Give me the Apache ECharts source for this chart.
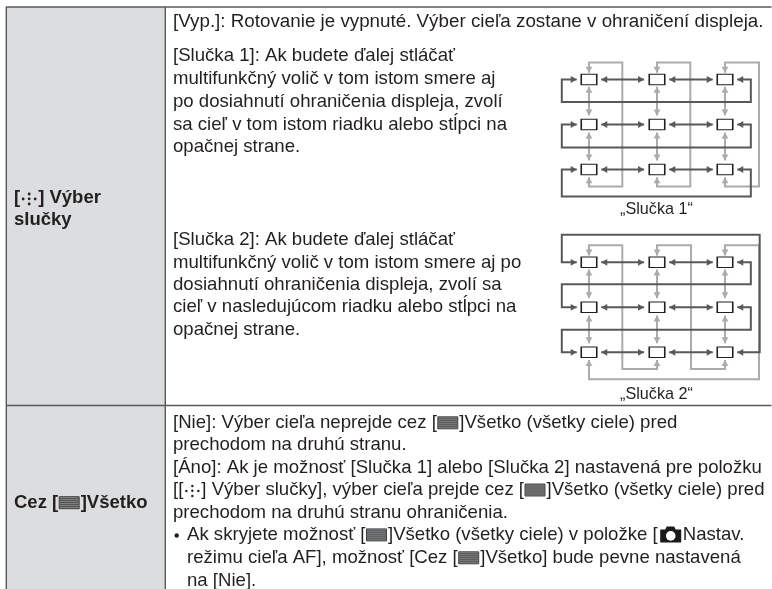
<!DOCTYPE html>
<html><head><meta charset="utf-8">
<style>html,body{margin:0;padding:0;background:#fff}#c{width:772px;height:589px}</style>
<script src="https://cdn.jsdelivr.net/npm/echarts@6/dist/echarts.min.js"></script>
</head><body><div id="c"></div>
<script>
// ---------- content ----------
const headerRow1 = ["[{loop}] Výber", "slučky"];
const headerRow2 = ["Cez [{grid}]Všetko"];
const offText = ["[Vyp.]: Rotovanie je vypnuté. Výber cieľa zostane v ohraničení displeja."];
const loop1Text = ["[Slučka 1]: Ak budete ďalej stláčať","multifunkčný volič v tom istom smere aj","po dosiahnutí ohraničenia displeja, zvolí","sa cieľ v tom istom riadku alebo stĺpci na","opačnej strane."];
const loop2Text = ["[Slučka 2]: Ak budete ďalej stláčať","multifunkčný volič v tom istom smere aj po","dosiahnutí ohraničenia displeja, zvolí sa","cieľ v nasledujúcom riadku alebo stĺpci na","opačnej strane."];
const viaAllText = ["[Nie]: Výber cieľa neprejde cez [{grid}]Všetko (všetky ciele) pred","prechodom na druhú stranu.","[Áno]: Ak je možnosť [Slučka 1] alebo [Slučka 2] nastavená pre položku","[[{loop}] Výber slučky], výber cieľa prejde cez [{grid}]Všetko (všetky ciele) pred","prechodom na druhú stranu ohraničenia."];
const noteText = ["Ak skryjete možnosť [{grid}]Všetko (všetky ciele) v položke [{cam}Nastav.","režimu cieľa AF], možnosť [Cez [{grid}]Všetko] bude pevne nastavená","na [Nie]."];
const captions = ["„Slučka 1“", "„Slučka 2“"];

// ---------- diagram data, in target-grid units (column, row) ----------
const targetCols = [0, 1, 2];
const targetRows = [0, 1, 2];
const rowLinks = [[[0.18,0],[0.81,0]],[[1.18,0],[1.82,0]],[[0.18,1],[0.81,1]],[[1.18,1],[1.82,1]],[[0.18,2],[0.81,2]],[[1.18,2],[1.82,2]]];
const colLinks = [[[0,0.16],[0,0.8]],[[0,1.18],[0,1.8]],[[1,0.16],[1,0.8]],[[1,1.18],[1,1.8]],[[2,0.16],[2,0.8]],[[2,1.18],[2,1.8]]];
const loop1RowRoutes = [
 [[-0.18,0],[-0.4,0],[-0.4,0.5],[2.38,0.5],[2.38,0],[2.18,0]],
 [[-0.18,1],[-0.4,1],[-0.4,1.51],[2.38,1.51],[2.38,1],[2.18,1]],
 [[-0.18,2],[-0.4,2],[-0.4,2.6],[2.38,2.6],[2.38,2],[2.18,2]]];
const loop1ColRoutes = [
 [[0,-0.15],[0,-0.38],[0.49,-0.38],[0.49,2.38],[0,2.38],[0,2.17]],
 [[1,-0.15],[1,-0.38],[1.49,-0.38],[1.49,2.38],[1,2.38],[1,2.17]],
 [[2,-0.15],[2,-0.38],[2.5,-0.38],[2.5,2.38],[2,2.38],[2,2.17]]];
const loop2RowRoutes = [
 [[-0.18,0],[-0.4,0],[-0.4,-0.61],[2.51,-0.61],[2.51,2],[2.18,2]],
 [[2.18,0],[2.38,0],[2.38,0.49],[-0.4,0.49],[-0.4,1],[-0.18,1]],
 [[2.18,1],[2.38,1],[2.38,1.5],[-0.4,1.5],[-0.4,2],[-0.18,2]]];
const loop2ColRoutes = [
 [[0,-0.15],[0,-0.38],[0.49,-0.38],[0.49,2.37],[1,2.37],[1,2.17]],
 [[1,-0.15],[1,-0.38],[1.5,-0.38],[1.5,2.37],[2,2.37],[2,2.17]],
 [[2,-0.15],[2,-0.38],[2.5,-0.38],[2.5,2.6],[0,2.6],[0,2.17]]];

// ---------- styles ----------
const FF = '"Liberation Sans", Arial, sans-serif';
const FS = 18.6, FS_TOP = 18.8, FS_BOLD = 18.5, INK = '#231f20', RULE = '#58595b', CELL = '#dcddde';
const DARK = '#58595b', LIGHT = '#a9abae';

const mc = document.createElement('canvas').getContext('2d');
const ICON_W = {grid: 22.5, loop: 18, cam: 25};
const g = [];
function drawIcon(name, x, yc, bold) {
  if (name === 'grid') {
    g.push({type:'rect',shape:{x:x+1,y:yc-6,width:20,height:12},style:{fill:'#8a8b8d',stroke:'#333',lineWidth:0.9}});
    for (let i=0;i<5;i++) g.push({type:'line',shape:{x1:x+1.5,y1:yc-4+i*2,x2:x+20.5,y2:yc-4+i*2},style:{stroke:'#3a3a3a',lineWidth:0.8}});
  } else if (name === 'loop') {
    const r = bold ? 1.4 : 1.2, cx = x+9;
    [[-6,0],[6,0],[0,-5],[0,-0.2],[0,5]].forEach(d=>g.push({type:'circle',shape:{cx:cx+d[0],cy:yc+1+d[1],r:r},style:{fill:INK}}));
  } else if (name === 'cam') {
    g.push({type:'polygon',shape:{points:[[x+2.5,yc-5.5],[x+7.5,yc-5.5],[x+9,yc-8.5],[x+16.5,yc-8.5],[x+18,yc-5.5],[x+23.5,yc-5.5],[x+23.5,yc+7.5],[x+2.5,yc+7.5]]},style:{fill:'#1a1a1a'}});
    g.push({type:'circle',shape:{cx:x+13,cy:yc+1,r:4.8},style:{fill:'#fff'}});
  }
}
function drawLine(str, x, yc, opt) {
  opt = opt || {};
  const font = (opt.bold?'bold ':'') + (opt.fs||FS) + 'px ' + FF;
  mc.font = font;
  str.split(/(\{[a-z]+\})/).forEach(part => {
    if (!part) return;
    const m = part.match(/^\{([a-z]+)\}$/);
    if (m) { drawIcon(m[1], x, yc, opt.bold); x += ICON_W[m[1]]; return; }
    g.push({type:'text',silent:true,style:{text:part,x:x,y:yc,font:font,fill:INK,verticalAlign:'middle',align:'left'}});
    x += mc.measureText(part).width;
  });
}
// table frame
g.push({type:'rect',shape:{x:6,y:7,width:159,height:582},style:{fill:CELL}});
[[6,7,771.5,7],[6,405.5,771.5,405.5],[6.3,7,6.3,589],[165.3,7,165.3,589]].forEach(l=>
  g.push({type:'line',shape:{x1:l[0],y1:l[1],x2:l[2],y2:l[3]},style:{stroke:RULE,lineWidth:1.4}}));

headerRow1.forEach((t,i)=>drawLine(t,14,198+i*22.4,{bold:true,fs:FS_BOLD}));
headerRow2.forEach((t,i)=>drawLine(t,14,502.7+i*22.4,{bold:true,fs:FS_BOLD}));
offText.forEach((t,i)=>drawLine(t,173,22+i*22.4,{fs:FS_TOP}));
loop1Text.forEach((t,i)=>drawLine(t,173,56+i*22.8));
loop2Text.forEach((t,i)=>drawLine(t,173,240+i*22.4));
viaAllText.forEach((t,i)=>drawLine(t,173,422.8+i*22.4));
noteText.forEach((t,i)=>drawLine(t,187,534.9+i*22.9));
g.push({type:'circle',shape:{cx:176.7,cy:535.5,r:2.2},style:{fill:INK}});
captions.forEach((t,i)=>g.push({type:'text',style:{text:t,x:656.5,y:i?395:210,font:'16.2px '+FF,fill:INK,align:'center',verticalAlign:'middle'}}));

// ---------- series ----------
const routesOf = {};
function routeRender(color, lw) {
  return function (params, api) {
    const pts = routesOf[params.seriesId][params.dataIndex];
    const px = pts.map(p => api.coord(p));
    const head = (a, b) => { // tip a, coming from b
      const dx=b[0]-a[0], dy=b[1]-a[1], L=Math.hypot(dx,dy), ux=dx/L, uy=dy/L, len=6, hw=3.4;
      return {type:'polygon',shape:{points:[a,[a[0]+ux*len-uy*hw,a[1]+uy*len+ux*hw],[a[0]+ux*len+uy*hw,a[1]+uy*len-ux*hw]]},style:{fill:color}};
    };
    return {type:'group',children:[
      {type:'polyline',shape:{points:px},style:{stroke:color,lineWidth:lw,fill:'none',lineJoin:'miter'}},
      head(px[0],px[1]), head(px[px.length-1],px[px.length-2])
    ]};
  };
}
function routeSeries(id, idx, routes, color, lw, z) {
  routesOf[id] = routes;
  return {id:id,type:'custom',xAxisIndex:idx,yAxisIndex:idx,z:z,silent:true,clip:false,
    renderItem:routeRender(color,lw),encode:{x:0,y:1},data:routes.map(r=>r[0])};
}
const boxes = [];
targetRows.forEach(r=>targetCols.forEach(c=>boxes.push([c,r])));
const panels = [
  {top:34.5, row:loop1RowRoutes, col:loop1ColRoutes},
  {top:217.3, row:loop2RowRoutes, col:loop2ColRoutes}
];
const series = [];
panels.forEach((p,i)=>{
  series.push(routeSeries('colLink'+i,i,colLinks,LIGHT,2,2));
  series.push(routeSeries('colRoute'+i,i,p.col,LIGHT,2,2));
  series.push(routeSeries('rowLink'+i,i,rowLinks,DARK,2,3));
  series.push(routeSeries('rowRoute'+i,i,p.row,DARK,2,3));
  series.push({type:'scatter',xAxisIndex:i,yAxisIndex:i,z:4,silent:true,symbol:'rect',symbolSize:[15.5,10.5],
    itemStyle:{color:'#fff',borderColor:'#231f20',borderWidth:1.3,opacity:1},data:boxes});
});
const chart = echarts.init(document.getElementById('c'),null,{renderer:'canvas'});
chart.setOption({
  animation:false,backgroundColor:'#fff',
  grid:panels.map(p=>({left:555,top:p.top,width:204,height:180,containLabel:false})),
  xAxis:panels.map((p,i)=>({type:'value',gridIndex:i,min:-0.5,max:2.5,show:false})),
  yAxis:panels.map((p,i)=>({type:'value',gridIndex:i,min:-1,max:3,inverse:true,show:false})),
  graphic:{elements:g},
  series:series
});
</script></body></html>
